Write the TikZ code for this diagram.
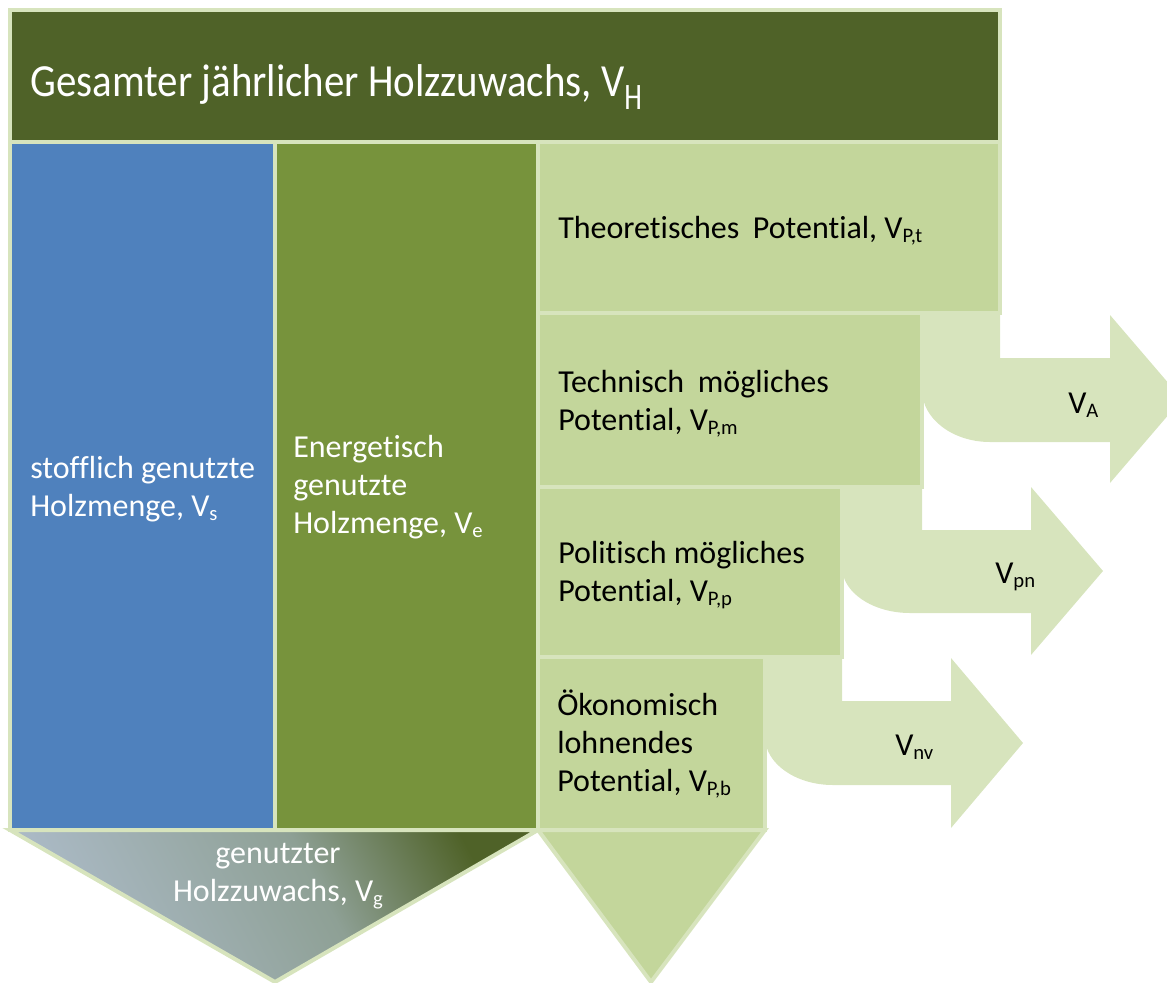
\documentclass[tikz,border=0pt]{standalone}
\usepackage{fontspec}
\setmainfont{Carlito}[Ligatures=NoCommon]
\definecolor{topc}{HTML}{4F6228}
\definecolor{bluec}{HTML}{4F81BD}
\definecolor{midc}{HTML}{77933C}
\definecolor{lightc}{HTML}{C3D69B}
\definecolor{bord}{HTML}{D7E4BD}
\definecolor{arrc}{HTML}{D7E4BD}
\definecolor{vgA}{HTML}{AAB9C4}
\definecolor{vgM}{HTML}{8EA095}
\definecolor{vgB}{HTML}{4F6228}
\pgfdeclarehorizontalshading{vgshade}{100bp}{color(0bp)=(vgA); color(27bp)=(vgA); color(56bp)=(vgM); color(75bp)=(vgB); color(100bp)=(vgB)}
\newcommand{\sub}[1]{\raisebox{-0.14em}{\fontsize{15.5}{15.5}\selectfont #1}}
\begin{document}
\begin{tikzpicture}[x=0.75pt,y=-0.75pt,
  boxline/.style={draw=bord,line width=3pt},
  bentarrow/.style={fill=arrc,draw=none},
  txt/.style={inner sep=0pt,align=left,font=\fontsize{24}{28.5}\selectfont},
  wtxt/.style={txt,text=white},
  btxt/.style={txt,text=black}]
\useasboundingbox (0,0) rectangle (1167,982);
\clip (0,0) rectangle (1167,982);
% bent arrows
\fill[bentarrow] (922,313) -- (1000,313) -- (1000,358) -- (1110,358) -- (1110,315) -- (1182,399) -- (1110,483) -- (1110,442) -- (990,442) .. controls (952.6,442) and (922,418.6) .. (922,390) -- cycle;
\fill[bentarrow] (842,487) -- (922,487) -- (922,530) -- (1031,530) -- (1031,487) -- (1103,571) -- (1031,655) -- (1031,613) -- (910,613) .. controls (872.6,613) and (842,592.3) .. (842,567) -- cycle;
\fill[bentarrow] (765,657) -- (842,657) -- (842,701) -- (951,701) -- (951,658) -- (1023,743) -- (951,828) -- (951,785) -- (833,785) .. controls (795.6,785) and (765,763.4) .. (765,737) -- cycle;
% bottom triangles
\shade[shading=vgshade,shading angle=28] (10,830) -- (538,830) -- (275,982) -- cycle;
\draw[boxline] (10,830) -- (538,830) -- (275,982) -- cycle;
\draw[boxline,fill=lightc] (538,830) -- (765,830) -- (651,982) -- cycle;
% boxes
\draw[boxline,fill=bluec] (10,142) rectangle (275,830);
\draw[boxline,fill=midc] (275,142) rectangle (538,830);
\draw[boxline,fill=lightc] (538,142) rectangle (1000,313);
\draw[boxline,fill=lightc] (538,313) rectangle (922,487);
\draw[boxline,fill=lightc] (538,487) rectangle (842,657);
\draw[boxline,fill=lightc] (538,657) rectangle (765,830);
\draw[boxline,fill=topc] (10,10) rectangle (1000,142);
% texts
\node[wtxt,anchor=base west] (title) at (30,96) {\scalebox{0.89}[1]{\fontsize{34.5}{40}\selectfont Gesamter jährlicher Holzzuwachs, V\raisebox{-10pt}{\scalebox{0.85}[1]{\fontsize{28}{28}\selectfont H}}}};
\node[wtxt,anchor=north west] (vs) at (30,451.3) {\strut stofflich genutzte\\\strut Holzmenge, V\sub{s}};
\node[wtxt,anchor=north west] (ve) at (293,430.3) {\strut Energetisch\\\strut genutzte\\\strut Holzmenge, V\sub{e}};
\node[btxt,anchor=north west] (vpt) at (558,211.3) {\strut Theoretisches\hspace{0.2em} Potential, V\sub{P,t}};
\node[btxt,anchor=north west] (vpm) at (558,365.3) {\strut Technisch\hspace{0.2em} mögliches\\\strut Potential, V\sub{P,m}};
\node[btxt,anchor=north west] (vpp) at (558,536.3) {\strut Politisch mögliches\\\strut Potential, V\sub{P,p}};
\node[btxt,anchor=north west] (vpb) at (557,688.3) {\strut Ökonomisch\\\strut lohnendes\\\strut Potential, V\sub{P,b}};
\node[btxt,anchor=base west] (va) at (1068,413) {V\sub{A}};
\node[btxt,anchor=base west] (vpn) at (995,583) {V\sub{pn}};
\node[btxt,anchor=base west] (vnv) at (895,755) {V\sub{nv}};
\node[wtxt,anchor=north,align=center] (vg) at (278,836.3) {\strut genutzter\\\strut Holzzuwachs, V\sub{g}};
\end{tikzpicture}
\end{document}
